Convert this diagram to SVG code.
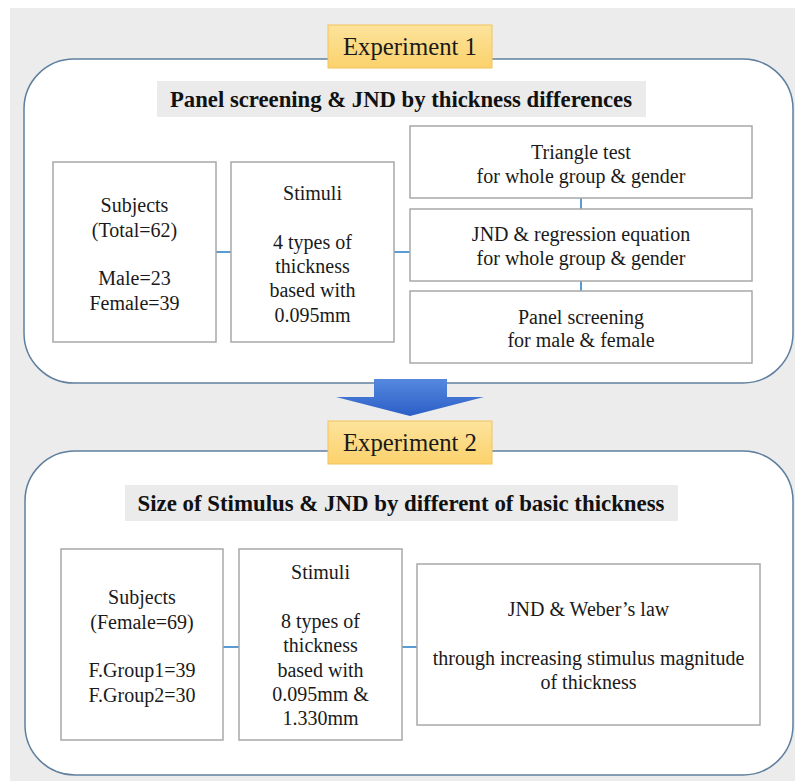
<svg xmlns="http://www.w3.org/2000/svg" width="795" height="781" viewBox="0 0 795 781">
<defs>
<linearGradient id="lab" x1="0" y1="0" x2="0" y2="1">
<stop offset="0" stop-color="#fde39c"/>
<stop offset="1" stop-color="#fbd26c"/>
</linearGradient>
<linearGradient id="arr" x1="0" y1="0" x2="0" y2="1">
<stop offset="0" stop-color="#5588de"/>
<stop offset="1" stop-color="#2c5fc6"/>
</linearGradient>
</defs>
<style>
.panel{fill:#ffffff;stroke:#5f7f9e;stroke-width:1.5}
.box{fill:#ffffff;stroke:#a8a8a8;stroke-width:1.5}
.lab{fill:url(#lab);stroke:#f3c35e;stroke-width:1}
.band{fill:#ebebeb}
text{font-family:'Liberation Serif','Times New Roman',serif;fill:#1a1a1a;text-anchor:middle}
.t{font-size:20px}
.lt{font-size:26px}
.bt{font-size:24px;font-weight:bold;fill:#111111}
.c{stroke:#5b9bd5;stroke-width:2;fill:none}
</style>
<rect x="0" y="0" width="795" height="781" fill="#ffffff"/>
<rect x="10" y="8" width="785" height="773" fill="#ececec"/>

<g id="panel1">
<rect class="panel" x="24" y="59" width="769" height="324" rx="50" ry="50"/>
<rect class="band" x="157" y="81" width="489" height="36"/>
<text class="bt" x="401" y="107" textLength="462" lengthAdjust="spacingAndGlyphs">Panel screening &amp; JND by thickness differences</text>
</g>

<g id="panel2">
<rect class="panel" x="25" y="451" width="768" height="324" rx="50" ry="50"/>
<rect class="band" x="125" y="485" width="553" height="36"/>
<text class="bt" x="401" y="511" textLength="527" lengthAdjust="spacingAndGlyphs">Size of Stimulus &amp; JND by different of basic thickness</text>
</g>

<g id="exp1">
<rect class="lab" x="328" y="25" width="164" height="43"/>
<text class="lt" x="410" y="55" textLength="134" lengthAdjust="spacingAndGlyphs">Experiment 1</text>
</g>

<g id="arrow">
<path d="M374 379 H447 V397 H484 L410 416 L336 397 H374 Z" fill="url(#arr)"/>
</g>

<g id="exp2">
<rect class="lab" x="328" y="421" width="164" height="43"/>
<text class="lt" x="410" y="451" textLength="134" lengthAdjust="spacingAndGlyphs">Experiment 2</text>
</g>

<g id="connectors">
<line class="c" x1="216" y1="252" x2="231" y2="252"/>
<line class="c" x1="394" y1="252" x2="410" y2="252"/>
<line class="c" x1="581" y1="198" x2="581" y2="209"/>
<line class="c" x1="581" y1="281" x2="581" y2="291"/>
<line class="c" x1="223" y1="647" x2="239" y2="647"/>
<line class="c" x1="402" y1="647" x2="417" y2="647"/>
</g>

<g id="subjects1">
<rect class="box" x="53" y="162" width="163" height="180"/>
<text class="t" x="134.5" y="212">Subjects</text>
<text class="t" x="134.5" y="237">(Total=62)</text>
<text class="t" x="134.5" y="285">Male=23</text>
<text class="t" x="134.5" y="310">Female=39</text>
</g>

<g id="stimuli1">
<rect class="box" x="231" y="162" width="163" height="180"/>
<text class="t" x="312.5" y="200">Stimuli</text>
<text class="t" x="312.5" y="249">4 types of</text>
<text class="t" x="312.5" y="273">thickness</text>
<text class="t" x="312.5" y="297">based with</text>
<text class="t" x="312.5" y="322">0.095mm</text>
</g>

<g id="triangle">
<rect class="box" x="410" y="126" width="342" height="72"/>
<text class="t" x="581" y="159">Triangle test</text>
<text class="t" x="581" y="183">for whole group &amp; gender</text>
</g>

<g id="jnd1">
<rect class="box" x="410" y="209" width="342" height="72"/>
<text class="t" x="581" y="241">JND &amp; regression equation</text>
<text class="t" x="581" y="265">for whole group &amp; gender</text>
</g>

<g id="panelscreen">
<rect class="box" x="410" y="291" width="342" height="72"/>
<text class="t" x="581" y="324">Panel screening</text>
<text class="t" x="581" y="347">for male &amp; female</text>
</g>

<g id="subjects2">
<rect class="box" x="61" y="549" width="162" height="191"/>
<text class="t" x="142" y="604">Subjects</text>
<text class="t" x="142" y="629">(Female=69)</text>
<text class="t" x="142" y="677">F.Group1=39</text>
<text class="t" x="142" y="702">F.Group2=30</text>
</g>

<g id="stimuli2">
<rect class="box" x="239" y="549" width="163" height="191"/>
<text class="t" x="320.5" y="579">Stimuli</text>
<text class="t" x="320.5" y="628">8 types of</text>
<text class="t" x="320.5" y="652">thickness</text>
<text class="t" x="320.5" y="677">based with</text>
<text class="t" x="320.5" y="701">0.095mm &amp;</text>
<text class="t" x="320.5" y="725">1.330mm</text>
</g>

<g id="weber">
<rect class="box" x="417" y="564" width="343" height="161"/>
<text class="t" x="588.5" y="616">JND &amp; Weber’s law</text>
<text class="t" x="588.5" y="665">through increasing stimulus magnitude</text>
<text class="t" x="588.5" y="689">of thickness</text>
</g>
</svg>
